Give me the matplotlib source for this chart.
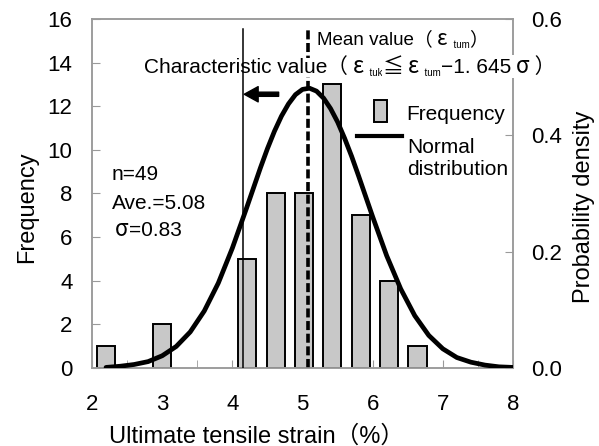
import matplotlib
matplotlib.use('Agg')
import matplotlib.pyplot as plt
import matplotlib.transforms as mtransforms
from matplotlib.patches import Rectangle
from matplotlib.lines import Line2D
import numpy as np

plt.rcParams['font.family'] = ['Liberation Sans', 'Noto Sans CJK JP', 'DejaVu Sans']

# histogram (frequency per strain class)
bin_centers = [2.2, 3.0, 4.21, 4.62, 5.02, 5.42, 5.83, 6.23, 6.64]
frequency = [1, 2, 5, 8, 8, 13, 7, 4, 1]

# normal distribution curve (probability density)
curve_x = [2.2, 2.4, 2.6, 2.8, 3.0, 3.2, 3.4, 3.6, 3.8, 4.0, 4.2, 4.4, 4.5, 4.6,
           4.7, 4.8, 4.9, 5.0, 5.1, 5.2, 5.3, 5.4, 5.5, 5.6, 5.7, 5.8, 6.0,
           6.2, 6.4, 6.6, 6.8, 7.0, 7.2, 7.4, 7.6, 7.8, 8.0]
curve_density = [0.001, 0.003, 0.006, 0.011, 0.021, 0.037, 0.062, 0.098, 0.146,
                 0.206, 0.274, 0.344, 0.377, 0.407, 0.433, 0.454, 0.470, 0.479,
                 0.481, 0.476, 0.464, 0.446, 0.423, 0.395, 0.364, 0.330, 0.260,
                 0.193, 0.136, 0.090, 0.056, 0.033, 0.018, 0.010, 0.005, 0.002,
                 0.001]

n_samples = 49
mean_strain = 5.08
sigma_strain = 0.83
char_strain = 4.15

GRAY = '#9a9a9a'
BAR = '#c8c8c8'
CJK = ['Noto Sans CJK JP', 'DejaVu Sans']


def rich_text(ax, x, y, parts, transform, **kw):
    # pose des morceaux de texte les uns après les autres (indices, etc.)
    fig = ax.figure
    r = fig.canvas.get_renderer()
    dx = 0
    for s, size, dy, fam in parts:
        tr = mtransforms.offset_copy(transform, fig=fig, x=dx, y=dy, units='dots')
        extra = {'family': fam} if fam else {}
        t = ax.text(x, y, s, fontsize=size, transform=tr, ha='left',
                    va='baseline', **extra, **kw)
        dx += t.get_window_extent(renderer=r).width


fig = plt.figure(figsize=(5.99, 4.46), dpi=100)
ax = fig.add_axes([0.1536, 0.1749, 0.7028, 0.7825])
ax2 = ax.twinx()

ax.bar(bin_centers, frequency, width=0.26, color=BAR, edgecolor='black',
       linewidth=1.4, zorder=2)
ax.set_xlim(2, 8)
ax.set_ylim(0, 16)
ax2.set_ylim(0, 0.6)

ax.set_xticks(range(2, 9))
ax.set_xticks(np.arange(2, 8.01, 0.5), minor=True)
ax.set_yticks(range(0, 17, 2))
ax2.set_yticks([0, 0.2, 0.4, 0.6])
ax2.set_yticklabels(['0.0', '0.2', '0.4', '0.6'])

ax.tick_params(axis='x', which='both', direction='in', length=6, color=GRAY,
               labelsize=16, pad=19, top=False)
ax.tick_params(axis='y', direction='in', length=6, color=GRAY, labelsize=16,
               pad=14, right=False)
ax2.tick_params(axis='y', direction='in', length=6, color=GRAY, labelsize=16,
                pad=13)
for a in (ax, ax2):
    for sp in a.spines.values():
        sp.set_color(GRAY)
        sp.set_linewidth(1.1)

ax.set_xlabel('Ultimate tensile strain（%）', fontsize=17)
ax.xaxis.set_label_coords(0.39, -0.163)
ax.set_ylabel('Frequency', fontsize=17)
ax.yaxis.set_label_coords(-0.128, 0.461)
ax2.set_ylabel('Probability density', fontsize=17)
ax2.yaxis.set_label_coords(1.1425, 0.461)

# courbe normale
ax2.plot(curve_x, curve_density, color='black', lw=3.4, solid_joinstyle='round',
         solid_capstyle='round', zorder=4)

# lignes verticales
ax2.axvline(mean_strain, ymin=0, ymax=0.975, color='black', lw=2.6,
            ls=(0, (2.5, 1)), zorder=2)
ax2.axvline(char_strain, ymin=0, ymax=0.972, color='black', lw=1.1, zorder=6)

ax2.annotate('', xy=(4.17, 12.55), xytext=(4.66, 12.55),
             xycoords=ax.transData, textcoords=ax.transData,
             arrowprops=dict(arrowstyle='simple,head_length=1.0,head_width=1.1,tail_width=0.3',
                             mutation_scale=10, color='black', shrinkA=0, shrinkB=0),
             zorder=6)

# textes
bg = dict(facecolor='white', edgecolor='none', pad=0)
rich_text(ax2, 5.21, 14.81,
          [('Mean value', 13.5, 0, None), ('（ ', 13.5, 0, CJK), ('ε', 15, 0, CJK),
           ('  tum', 7, -3, None), ('）', 13.5, 0, CJK)],
          ax.transData, zorder=5)
rich_text(ax2, 2.741, 13.52,
          [('Characteristic value', 15, 0, None), ('（ ', 15, 0, CJK),
           ('ε', 16, 0, CJK), ('  tuk', 7, -3, None), ('≦', 15, 0, CJK),
           (' ε', 16, 0, CJK), ('  tum', 7, -3, None), ('−1. 645', 15, 0, None),
           (' σ', 16, 0, CJK), (' ）', 15, 0, CJK)],
          ax.transData, zorder=3, bbox=bg)

ax2.text(2.285, 8.62, f'n={n_samples}', fontsize=15, transform=ax.transData)
ax2.text(2.285, 7.29, f'Ave.={mean_strain:.2f}', fontsize=15, transform=ax.transData)
rich_text(ax2, 2.33, 6.05, [('σ', 16, 0, CJK), (f'={sigma_strain:.2f}', 15, 0, None)],
          ax.transData)

# légende
ax2.add_patch(Rectangle((0.670, 0.705), 0.031, 0.063, transform=ax2.transAxes,
                        facecolor=BAR, edgecolor='black', lw=1.4, zorder=5))
ax2.add_line(Line2D([0.629, 0.736], [0.665, 0.665], transform=ax2.transAxes,
                    color='black', lw=3, zorder=5))
ax2.text(0.746, 0.711, 'Frequency', fontsize=15, transform=ax2.transAxes, va='baseline')
ax2.text(0.748, 0.616, 'Normal', fontsize=15, transform=ax2.transAxes, va='baseline')
ax2.text(0.748, 0.553, 'distribution', fontsize=15, transform=ax2.transAxes, va='baseline')

fig.savefig('out.png', dpi=100, facecolor='white')
